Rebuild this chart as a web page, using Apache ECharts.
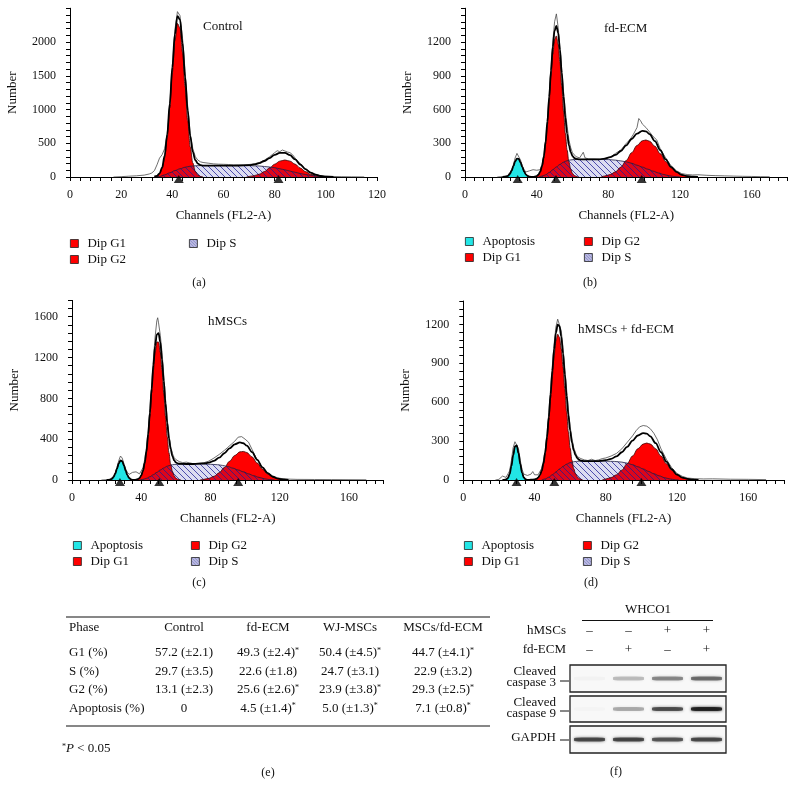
<!DOCTYPE html>
<html>
<head>
<meta charset="utf-8">
<style>
    html, body { margin: 0; height: 100%; background: #fff; overflow: hidden; }
    #main { width: 796px; height: 785px; }
</style>
</head>
<body>
<div id="main"></div>
<script src="https://cdn.jsdelivr.net/npm/echarts@6/dist/echarts.min.js"></script>
<script>
// ---------------- (a) Control ----------------
var ctrlG1 = [[33,0],[34,14],[35,44],[36,121],[37,286],[38,586],[39,1024],[40,1548],[41,2020],[42,2275],[43,2208],[44,1848],[45,1335],[46,834],[47,447],[48,208],[49,82],[50,29],[51,8],[52,0]];
var ctrlG2 = [[69,0],[70,8],[72,20],[74,42],[76,81],[78,133],[80,190],[82,235],[84,252],[86,235],[88,190],[90,133],[92,81],[94,42],[96,20],[98,8],[100,3],[102,0]];
var ctrlS = [[33,0],[35,8],[37,32],[39,62],[41,95],[43,122],[45,145],[47,160],[49,166],[51,169],[55,170],[60,170],[65,170],[70,168],[74,163],[78,148],[80,138],[82,122],[84,106],[86,88],[88,70],[90,52],[92,37],[94,24],[96,14],[98,7],[100,3],[103,0]];
var ctrlFit = [[33,5],[34,18],[35,52],[36,141],[37,318],[38,631],[39,1086],[40,1626],[41,2115],[42,2383],[43,2330],[44,1983],[45,1480],[46,987],[47,607],[48,371],[49,248],[50,197],[51,177],[52,170],[60,170],[65,170],[70,176],[72,186],[74,205],[76,237],[78,281],[80,328],[82,357],[84,358],[86,323],[88,260],[90,185],[92,118],[94,66],[96,34],[98,15],[100,6],[103,0]];
var ctrlRaw = [[17,0],[20,5],[23,12],[26,18],[29,28],[31,45],[32,60],[33,95],[34,180],[35,280],[36,330],[37,420],[38,640],[39,1080],[40,1650],[41,2180],[42,2450],[42.5,2470],[43,2390],[44,2050],[45,1560],[46,1050],[47,640],[48,420],[49,300],[50,250],[51,225],[52,215],[54,205],[56,195],[58,190],[60,188],[62,185],[64,180],[66,182],[68,178],[70,185],[72,195],[74,215],[76,250],[78,300],[79,330],[80,360],[81,390],[82,375],[83,400],[84,385],[85,370],[86,360],[87,330],[88,280],[90,195],[92,120],[94,70],[96,38],[98,20],[100,12],[103,8],[106,5],[110,3],[115,1]];
var ctrlMarks = [42.5, 81.5];

// ---------------- (b) fd-ECM ----------------
var ecmApo = [[22,0],[23,4],[24,10],[25,27],[26,56],[27,96],[28,138],[29,164],[30,160],[31,130],[32,88],[33,49],[34,22],[35,9],[36,3],[37,0]];
var ecmG1 = [[39,0],[40,8],[41,20],[42,44],[43,91],[44,170],[45,294],[46,465],[47,673],[48,894],[49,1091],[50,1222],[51,1254],[52,1181],[53,1019],[54,806],[55,585],[56,389],[57,239],[58,133],[59,69],[60,32],[61,14],[62,6],[63,0]];
var ecmG2 = [[76,0],[78,9],[81,22],[84,46],[87,88],[90,147],[93,216],[96,280],[99,322],[101,329],[103,318],[106,273],[109,207],[112,138],[115,82],[118,43],[121,19],[124,8],[127,3],[130,0]];
var ecmS = [[41,0],[43,8],[45,20],[47,40],[49,65],[51,90],[53,112],[55,132],[57,145],[59,152],[61,155],[65,156],[75,156],[80,155],[84,150],[87,143],[90,135],[93,122],[96,105],[99,88],[102,70],[105,52],[108,36],[111,22],[114,11],[117,4],[120,0]];
var ecmFit = [[21,0],[23,4],[24,10],[25,27],[26,56],[27,96],[28,138],[29,164],[30,160],[31,130],[32,88],[33,49],[34,22],[35,9],[36,3],[38,1],[40,8],[41,20],[42,48],[43,99],[44,184],[45,314],[46,495],[47,713],[48,946],[49,1156],[50,1300],[51,1344],[52,1282],[53,1131],[54,928],[55,717],[56,528],[57,384],[58,282],[59,221],[60,186],[61,169],[62,161],[64,156],[75,156],[78,164],[81,176],[84,196],[87,231],[90,282],[93,338],[96,385],[99,410],[101,405],[103,382],[106,319],[109,238],[112,156],[115,90],[118,46],[121,19],[124,8],[127,3],[130,0]];
var ecmRaw = [[18,0],[20,3],[22,6],[24,15],[25,30],[26,60],[27,110],[28,170],[29,210],[30,195],[31,150],[32,100],[33,65],[34,45],[35,40],[36,55],[37,70],[38,65],[39,72],[40,60],[41,55],[42,65],[43,110],[44,190],[45,330],[46,520],[47,740],[48,980],[49,1200],[50,1380],[51,1450],[52,1330],[53,1150],[54,950],[55,760],[56,590],[57,450],[58,330],[59,260],[60,215],[61,200],[62,180],[64,170],[65,175],[66,220],[67,170],[69,160],[72,160],[75,158],[78,165],[81,175],[84,210],[87,240],[90,300],[92,330],[94,380],[96,440],[97,520],[98,500],[99,470],[100,480],[101,440],[103,400],[105,360],[107,330],[109,250],[112,170],[115,100],[118,55],[121,30],[124,22],[127,18],[130,20],[135,15],[140,12],[145,10],[150,8],[155,6],[160,5],[165,3],[170,2]];
var ecmMarks = [29.4, 50.8, 98.6];

// ---------------- (c) hMSCs ----------------
var mscApo = [[20,0],[21,1],[22,3],[23,11],[24,29],[25,63],[26,112],[27,162],[28,191],[29,184],[30,143],[31,91],[32,47],[33,20],[34,7],[35,2],[36,0]];
var mscG1 = [[37,0],[38,8],[39,19],[40,42],[41,85],[42,156],[43,267],[44,425],[45,625],[46,852],[47,1073],[48,1252],[49,1352],[50,1352],[51,1252],[52,1073],[53,852],[54,625],[55,425],[56,267],[57,156],[58,85],[59,42],[60,19],[61,8],[62,3],[63,0]];
var mscG2 = [[74,0],[76,6],[79,16],[82,36],[85,71],[88,122],[91,183],[94,240],[97,276],[99,280],[101,269],[104,226],[107,166],[110,107],[113,60],[116,30],[119,13],[122,5],[125,0]];
var mscS = [[39,0],[41,6],[43,16],[45,32],[47,52],[49,75],[51,98],[53,118],[55,135],[57,146],[59,152],[62,156],[66,157],[75,156],[80,154],[84,150],[87,143],[90,132],[93,116],[96,98],[99,80],[102,60],[105,42],[108,26],[111,13],[114,4],[117,0]];
var mscFit = [[20,0],[21,1],[22,3],[23,11],[24,29],[25,63],[26,112],[27,162],[28,191],[29,184],[30,143],[31,91],[32,47],[33,20],[34,7],[35,2],[36,1],[37,3],[38,8],[39,19],[40,45],[41,91],[42,167],[43,283],[44,449],[45,657],[46,894],[47,1125],[48,1315],[49,1427],[50,1438],[51,1350],[52,1181],[53,970],[54,752],[55,560],[56,408],[57,302],[58,234],[59,194],[60,172],[61,163],[62,159],[66,157],[70,157],[76,162],[79,171],[82,188],[85,219],[88,262],[91,310],[94,350],[97,368],[99,360],[101,336],[104,274],[107,197],[110,124],[113,67],[116,32],[119,13],[122,5],[125,0]];
var mscRaw = [[17,0],[20,3],[22,8],[24,35],[25,70],[26,125],[27,190],[28,235],[29,215],[30,160],[31,110],[32,75],[33,55],[34,60],[35,75],[36,85],[37,80],[38,70],[39,60],[40,75],[41,120],[42,200],[43,320],[44,480],[45,700],[46,930],[47,1180],[48,1400],[49,1560],[49.5,1590],[50,1540],[51,1420],[52,1250],[53,1030],[54,800],[55,600],[56,440],[57,330],[58,260],[59,220],[60,200],[62,180],[64,170],[66,175],[68,168],[70,160],[73,162],[76,168],[79,185],[82,215],[85,250],[88,290],[90,320],[92,350],[94,380],[96,420],[97,430],[98,425],[99,410],[100,400],[102,370],[104,300],[106,230],[108,175],[110,125],[113,70],[116,38],[119,20],[122,12],[126,8],[130,6],[140,5],[150,4],[160,3],[170,2]];
var mscMarks = [27.7, 50.4, 96];

// ---------------- (d) hMSCs + fd-ECM ----------------
var mixApo = [[23,0],[24,4],[25,14],[26,45],[27,107],[28,191],[29,259],[30,266],[31,207],[32,123],[33,55],[34,19],[35,5],[36,0]];
var mixG1 = [[40,0],[41,8],[42,18],[43,37],[44,70],[45,124],[46,205],[47,317],[48,462],[49,630],[50,803],[51,960],[52,1073],[53,1124],[54,1101],[55,1011],[56,870],[57,700],[58,528],[59,372],[60,246],[61,152],[62,88],[63,48],[64,25],[65,11],[66,5],[67,0]];
var mixG2 = [[78,0],[80,8],[83,19],[86,40],[89,76],[92,126],[95,185],[98,241],[101,277],[103,285],[105,277],[108,241],[111,185],[114,126],[117,76],[120,40],[123,19],[126,8],[129,3],[132,0]];
var mixS = [[44,0],[46,8],[48,22],[50,40],[52,62],[54,85],[56,105],[58,122],[60,134],[62,141],[65,145],[70,146],[80,145],[85,143],[89,138],[92,130],[95,118],[98,102],[101,85],[104,66],[107,48],[110,32],[113,18],[116,8],[119,2],[121,0]];
var mixFit = [[22,0],[23,1],[24,4],[25,14],[26,45],[27,107],[28,191],[29,259],[30,266],[31,207],[32,123],[33,55],[34,19],[35,5],[36,1],[38,2],[40,5],[41,8],[42,18],[43,37],[44,70],[45,128],[46,213],[47,332],[48,484],[49,661],[50,843],[51,1011],[52,1135],[53,1197],[54,1186],[55,1106],[56,975],[57,814],[58,650],[59,500],[60,380],[61,290],[62,229],[63,191],[64,169],[65,156],[66,150],[68,146],[72,146],[76,146],[80,153],[83,163],[86,182],[89,214],[92,256],[95,303],[98,343],[101,362],[103,357],[105,337],[108,284],[111,214],[114,142],[117,83],[120,41],[123,19],[126,8],[129,3],[132,0]];
var mixRaw = [[18,0],[20,5],[22,30],[23,25],[24,20],[25,30],[26,70],[27,150],[28,250],[29,295],[30,300],[31,240],[32,150],[33,80],[34,45],[35,40],[36,35],[37,50],[38,45],[39,65],[40,40],[41,35],[42,40],[43,55],[44,90],[45,150],[46,230],[47,360],[48,520],[49,700],[50,880],[51,1050],[52,1180],[53,1240],[54,1230],[55,1150],[56,1020],[57,860],[58,700],[59,540],[60,410],[61,320],[62,250],[63,210],[64,180],[66,165],[68,155],[70,150],[72,160],[74,150],[76,155],[78,165],[80,170],[83,185],[86,205],[89,240],[92,290],[95,340],[97,380],[99,410],[100,425],[101,420],[102,425],[103,415],[104,405],[105,395],[107,360],[109,310],[111,240],[114,160],[117,95],[120,50],[123,28],[126,15],[130,10],[135,8],[140,9],[150,6],[160,5],[170,3]];
var mixMarks = [29.9, 51.1, 100];

// ---------------- (e) table ----------------
var phaseCols = ['Phase', 'Control', 'fd-ECM', 'WJ-MSCs', 'MSCs/fd-ECM'];
var phaseRows = ['G1 (%)', 'S (%)', 'G2 (%)', 'Apoptosis (%)'];
var g1Mean = [57.2, 49.3, 50.4, 44.7],  g1Sd = [2.1, 2.4, 4.5, 4.1],  g1Sig = [0, 1, 1, 1];
var sMean = [29.7, 22.6, 24.7, 22.9],   sSd = [3.5, 1.8, 3.1, 3.2],   sSig = [0, 0, 0, 0];
var g2Mean = [13.1, 25.6, 23.9, 29.3],  g2Sd = [2.3, 2.6, 3.8, 2.5],  g2Sig = [0, 1, 1, 1];
var apoMean = [0, 4.5, 5.0, 7.1],       apoSd = [null, 1.4, 1.3, 0.8], apoSig = [0, 1, 1, 1];

// ---------------- (f) western blot ----------------
var blotLanes = ['1', '2', '3', '4'];
var hMSCsRow = ['–', '–', '+', '+'];
var fdEcmRow = ['–', '+', '–', '+'];
var casp3Band = [0.03, 0.28, 0.5, 0.62];
var casp9Band = [0.02, 0.35, 0.75, 1.0];
var gapdhBand = [0.78, 0.8, 0.72, 0.78];

var serif = '"Liberation Serif", "DejaVu Serif", serif';
var RED = '#ff0000', CYAN = '#22e6e6', LAV = '#d2d2f0';

// diagonal hatch used for the S-phase area
function hatch(size) {
    var c = document.createElement('canvas');
    c.width = c.height = size;
    var g = c.getContext('2d');
    g.fillStyle = 'rgba(40,40,170,0.16)';
    g.fillRect(0, 0, size, size);
    g.strokeStyle = 'rgba(30,30,150,0.75)';
    g.lineWidth = 1;
    g.beginPath();
    g.moveTo(-1, -1); g.lineTo(size + 1, size + 1);
    g.moveTo(-1, size - 1); g.lineTo(1, size + 1);
    g.moveTo(size - 1, -1); g.lineTo(size + 1, 1);
    g.stroke();
    return c;
}
var hatchFill = { image: hatch(6), repeat: 'repeat' };
var hatchIcon = { image: hatch(3), repeat: 'repeat' };

var panels = [
    { apo: null, g1: ctrlG1, g2: ctrlG2, s: ctrlS, fit: ctrlFit, raw: ctrlRaw, marks: ctrlMarks,
      grid: { left: 70, top: 8.25, width: 307, height: 168.75 },
      xMax: 120, xTick: 4, xLab: 20, yMax: 2500, yTick: 100, yLab: 500 },
    { apo: ecmApo, g1: ecmG1, g2: ecmG2, s: ecmS, fit: ecmFit, raw: ecmRaw, marks: ecmMarks,
      grid: { left: 465, top: 8.25, width: 322.5, height: 168.75 },
      xMax: 180, xTick: 5, xLab: 40, yMax: 1500, yTick: 60, yLab: 300 },
    { apo: mscApo, g1: mscG1, g2: mscG2, s: mscS, fit: mscFit, raw: mscRaw, marks: mscMarks,
      grid: { left: 72, top: 300.4, width: 311.6, height: 179.6 },
      xMax: 180, xTick: 5, xLab: 40, yMax: 1760, yTick: 80, yLab: 400 },
    { apo: mixApo, g1: mixG1, g2: mixG2, s: mixS, fit: mixFit, raw: mixRaw, marks: mixMarks,
      grid: { left: 463.3, top: 301, width: 320.6, height: 179 },
      xMax: 180, xTick: 5, xLab: 40, yMax: 1380, yTick: 60, yLab: 300 }
];

var grids = [], xAxes = [], yAxes = [], series = [];

function area(name, data, fill, i, edge) {
    return {
        name: name, type: 'line', xAxisIndex: i, yAxisIndex: i, data: data,
        smooth: 0.35, smoothMonotone: 'x', symbol: 'none', silent: true,
        lineStyle: { color: edge || '#3a0000', width: 0.8 },
        itemStyle: { color: typeof fill === 'string' ? fill : LAV },
        areaStyle: { color: fill, opacity: 1 }
    };
}

panels.forEach(function (p, i) {
    grids.push(Object.assign({ containLabel: false, outerBoundsMode: 'none' }, p.grid));
    xAxes.push({
        gridIndex: i, type: 'value', min: 0, max: p.xMax, interval: p.xTick,
        axisLine: { show: true, onZero: false, lineStyle: { color: '#000', width: 1 } },
        axisTick: { show: true, length: 4, lineStyle: { color: '#000' } },
        splitLine: { show: false },
        axisLabel: {
            fontFamily: serif, fontSize: 12, color: '#111', margin: 12,
            formatter: function (v) { return (Math.round(v) % p.xLab === 0 && v <= p.xMax) ? String(Math.round(v)) : ''; }
        },
        name: 'Channels (FL2-A)', nameLocation: 'middle', nameGap: 32,
        nameTextStyle: { fontFamily: serif, fontSize: 13, color: '#111' }
    });
    yAxes.push({
        gridIndex: i, type: 'value', min: 0, max: p.yMax, interval: p.yTick,
        axisLine: { show: true, lineStyle: { color: '#000', width: 1 } },
        axisTick: { show: true, length: 4, lineStyle: { color: '#000' } },
        splitLine: { show: false },
        axisLabel: {
            fontFamily: serif, fontSize: 12, color: '#111', margin: 14,
            formatter: function (v) { return (Math.round(v) % p.yLab === 0 && v < p.yMax) ? String(Math.round(v)) : ''; }
        },
        name: 'Number', nameLocation: 'middle', nameGap: 51, nameRotate: 90,
        nameTextStyle: { fontFamily: serif, fontSize: 13, color: '#111' }
    });
    if (p.apo) series.push(area('Apoptosis', p.apo, CYAN, i, '#004040'));
    series.push(area('Dip G1', p.g1, RED, i));
    series.push(area('Dip G2', p.g2, RED, i));
    series.push(area('Dip S', p.s, hatchFill, i, '#202040'));
    series.push({
        name: 'raw', type: 'line', xAxisIndex: i, yAxisIndex: i, data: p.raw, symbol: 'none', silent: true,
        lineStyle: { color: '#4a4a4a', width: 0.8 }
    });
    series.push({
        name: 'fit', type: 'line', xAxisIndex: i, yAxisIndex: i, data: p.fit, symbol: 'none', silent: true,
        smooth: 0.35, smoothMonotone: 'x', lineStyle: { color: '#000', width: 1.8 }
    });
    series.push({
        name: 'peak', type: 'scatter', xAxisIndex: i, yAxisIndex: i, silent: true, clip: false,
        data: p.marks.map(function (m) { return [m, 0]; }),
        symbol: 'triangle', symbolSize: [10, 8], symbolOffset: [0, 2],
        itemStyle: { color: '#000' }, z: 5
    });
});

// blot boxes
var boxLeft = 570, boxWidth = 156;
var boxes = [
    { top: 665, height: 27, bands: casp3Band },
    { top: 696, height: 26, bands: casp9Band },
    { top: 726, height: 27, bands: gapdhBand }
];
boxes.forEach(function (b, k) {
    var gi = 4 + k;
    grids.push({ left: boxLeft, top: b.top, width: boxWidth, height: b.height, show: true,
                 borderColor: '#222', borderWidth: 1.3, backgroundColor: '#f8f8f8',
                 containLabel: false, outerBoundsMode: 'none' });
    xAxes.push({ gridIndex: gi, type: 'category', data: blotLanes, show: false, boundaryGap: true });
    yAxes.push({ gridIndex: gi, type: 'value', min: 0, max: 1, show: false });
    series.push({
        name: 'band' + k, type: 'scatter', xAxisIndex: gi, yAxisIndex: gi, silent: true,
        symbol: 'roundRect', symbolSize: [31, 4],
        data: b.bands.map(function (v, j) {
            return { value: [j, 0.5], itemStyle: { color: 'rgba(15,15,15,' + v + ')', shadowBlur: 3, shadowColor: 'rgba(15,15,15,' + v + ')' } };
        })
    });
});

function legendAt(names, left, top) {
    var colors = { 'Apoptosis': CYAN, 'Dip G1': RED, 'Dip G2': RED, 'Dip S': hatchIcon };
    return {
        orient: 'vertical', left: left, top: top, padding: 0, itemGap: 1,
        itemWidth: 8, itemHeight: 8, selectedMode: false,
        textStyle: { fontFamily: serif, fontSize: 13, color: '#111', padding: [0, 0, 0, 4], lineHeight: 15 },
        data: names.map(function (n) {
            return { name: n, icon: 'rect', itemStyle: { color: colors[n], borderColor: '#222', borderWidth: 0.8 } };
        })
    };
}
var legends = [
    legendAt(['Dip G1', 'Dip G2'], 70, 236),
    legendAt(['Dip S'], 189, 236),
    legendAt(['Apoptosis', 'Dip G1'], 465, 234),
    legendAt(['Dip G2', 'Dip S'], 584, 234),
    legendAt(['Apoptosis', 'Dip G1'], 73, 538),
    legendAt(['Dip G2', 'Dip S'], 191, 538),
    legendAt(['Apoptosis', 'Dip G1'], 464, 538),
    legendAt(['Dip G2', 'Dip S'], 583, 538)
];

// free text, table and blot labels
var graphics = [];
function txt(x, y, s, opt) {
    graphics.push({ type: 'text', x: x, y: y, silent: true,
        style: Object.assign({ text: s, fontFamily: serif, fontSize: 13, fill: '#111', align: 'left', verticalAlign: 'middle' }, opt || {}) });
}
function rule(x1, y1, x2, y2, w) {
    graphics.push({ type: 'line', silent: true, shape: { x1: x1, y1: y1, x2: x2, y2: y2 }, style: { stroke: '#111', lineWidth: w || 1 } });
}
txt(203, 27, 'Control');
txt(604, 29, 'fd-ECM');
txt(208, 322, 'hMSCs');
txt(578, 330, 'hMSCs + fd-ECM');
txt(199, 283, '(a)', { align: 'center', fontSize: 12 });
txt(590, 283, '(b)', { align: 'center', fontSize: 12 });
txt(199, 583, '(c)', { align: 'center', fontSize: 12 });
txt(591, 583, '(d)', { align: 'center', fontSize: 12 });

var sup = { sup: { fontSize: 8, verticalAlign: 'top', fontFamily: serif, fill: '#111' },
            it: { fontStyle: 'italic', fontSize: 13, fontFamily: serif, fill: '#111' } };
var colX = [69, 184, 268, 350, 443];
var rowY = [653, 671.5, 690, 708.5];
rule(66, 617, 490, 617, 1.2);
rule(66, 726, 490, 726, 1.2);
phaseCols.forEach(function (c, j) { txt(colX[j], 628, c, { align: j === 0 ? 'left' : 'center' }); });
var rowMeans = [g1Mean, sMean, g2Mean, apoMean], rowSds = [g1Sd, sSd, g2Sd, apoSd], rowSig = [g1Sig, sSig, g2Sig, apoSig];
phaseRows.forEach(function (r, i) {
    txt(colX[0], rowY[i], r);
    rowMeans[i].forEach(function (m, j) {
        var sd = rowSds[i][j];
        var s = sd === null ? String(m) : m.toFixed(1) + ' (±' + sd.toFixed(1) + ')';
        if (rowSig[i][j]) s += '{sup|*}';
        txt(colX[j + 1], rowY[i], s, { align: 'center', rich: sup });
    });
});
txt(62, 749, '{sup|*}{it|P} < 0.05', { rich: sup });
txt(268, 773, '(e)', { align: 'center', fontSize: 12 });

// blot labels
var laneW = boxWidth / blotLanes.length;
txt(648, 610, 'WHCO1', { align: 'center' });
rule(582, 620.5, 713, 620.5, 1);
txt(566, 631, 'hMSCs', { align: 'right' });
txt(566, 650, 'fd-ECM', { align: 'right' });
blotLanes.forEach(function (l, j) {
    var cx = boxLeft + laneW * (j + 0.5);
    txt(cx, 631, hMSCsRow[j], { align: 'center' });
    txt(cx, 650, fdEcmRow[j], { align: 'center' });
});
txt(556, 672, 'Cleaved', { align: 'right' });
txt(556, 683, 'caspase 3', { align: 'right' });
rule(560, 681, 569, 681, 1);
txt(556, 702.5, 'Cleaved', { align: 'right' });
txt(556, 713.5, 'caspase 9', { align: 'right' });
rule(560, 711, 569, 711, 1);
txt(556, 738, 'GAPDH', { align: 'right' });
rule(560, 740, 569, 740, 1);
txt(616, 772, '(f)', { align: 'center', fontSize: 12 });

var chart = echarts.init(document.getElementById('main'));
chart.setOption({
    animation: false,
    backgroundColor: '#fff',
    grid: grids,
    xAxis: xAxes,
    yAxis: yAxes,
    legend: legends,
    series: series,
    graphic: graphics
});
</script>
</body>
</html>
